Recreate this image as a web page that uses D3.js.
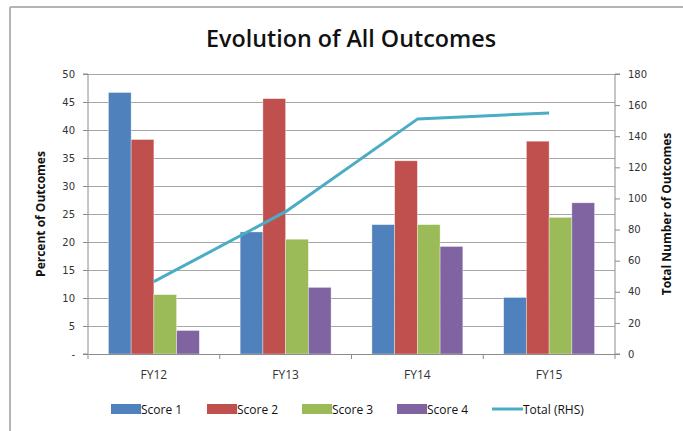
<!DOCTYPE html>
<html lang="en">
<head>
<meta charset="UTF-8">
<title>Evolution of All Outcomes</title>
<script src="https://d3js.org/d3.v7.min.js"></script>
<style>
  body { margin: 0; background: #fff; }
  svg { display: block; }
  .tick text { font-family: "DejaVu Sans", Verdana, sans-serif; font-size: 10px; fill: #333; }
  .axis-title { font-family: "Open Sans", Lato, sans-serif; font-size: 12px; font-weight: bold; fill: #111; }
  .legend text { font-family: "Open Sans", Lato, sans-serif; font-size: 12px; fill: #111; }
</style>
</head>
<body>
<div id="chart"></div>
<script>
// data
const years = ["FY12", "FY13", "FY14", "FY15"];
const seriesNames = ["Score 1", "Score 2", "Score 3", "Score 4"];
const score1 = [46.7, 21.8, 23.1, 10.1];
const score2 = [38.3, 45.6, 34.5, 38.0];
const score3 = [10.6, 20.5, 23.1, 24.4];
const score4 = [4.2, 11.9, 19.2, 27.0];
const totalRHS = [46.5, 91.5, 151, 155];
const leftTicks = [0, 5, 10, 15, 20, 25, 30, 35, 40, 45, 50];
const rightTicks = [0, 20, 40, 60, 80, 100, 120, 140, 160, 180];

const colors = ["#4F81BD", "#C0504D", "#9BBB59", "#8064A2"];
const lineColor = "#4BACC6";

const width = 683, height = 431;
const margin = { top: 74, right: 68, bottom: 77, left: 88 };
const innerW = width - margin.left - margin.right;
const innerH = height - margin.top - margin.bottom;

const svg = d3.select("#chart").append("svg")
    .attr("width", width)
    .attr("height", height);

// outer frame (only top and left visible)
svg.append("line").attr("x1", 10).attr("x2", width).attr("y1", 7).attr("y2", 7)
    .attr("stroke", "#b4b4b4").attr("stroke-width", 2);
svg.append("line").attr("x1", 10).attr("x2", 10).attr("y1", 7).attr("y2", height)
    .attr("stroke", "#b4b4b4").attr("stroke-width", 2);

svg.append("text")
    .attr("x", 351).attr("y", 47)
    .attr("text-anchor", "middle")
    .attr("textLength", 290)
    .attr("lengthAdjust", "spacingAndGlyphs")
    .style("font-family", "'Open Sans', Lato, sans-serif")
    .style("font-size", "23px")
    .style("font-weight", "600")
    .style("fill", "#111")
    .text("Evolution of All Outcomes");

const g = svg.append("g").attr("transform", `translate(${margin.left},${margin.top})`);

const x0 = d3.scaleBand().domain(years).range([0, innerW]).paddingInner(0).paddingOuter(0);
const x1 = d3.scaleBand().domain(seriesNames)
    .range([x0.bandwidth() * 0.155, x0.bandwidth() * 0.845]);
const yL = d3.scaleLinear().domain([0, 50]).range([innerH, 0]);
const yR = d3.scaleLinear().domain([0, 180]).range([innerH, 0]);

// gridlines
g.append("g")
    .selectAll("line")
    .data(leftTicks.slice(1))
    .join("line")
    .attr("x1", 0).attr("x2", innerW)
    .attr("y1", d => Math.round(yL(d)) + 0.5).attr("y2", d => Math.round(yL(d)) + 0.5)
    .attr("stroke", "#a6a6a6");

// bars
const allScores = [score1, score2, score3, score4];
const groups = g.append("g").selectAll("g")
    .data(years)
    .join("g")
    .attr("transform", d => `translate(${x0(d)},0)`);

groups.selectAll("rect")
    .data((d, i) => seriesNames.map((s, j) => ({ s, v: allScores[j][i], c: colors[j] })))
    .join("rect")
    .attr("x", d => x1(d.s))
    .attr("width", x1.bandwidth())
    .attr("y", d => yL(d.v))
    .attr("height", d => innerH - yL(d.v))
    .attr("fill", d => d.c)
    .attr("stroke", "rgba(255,255,255,0.5)")
    .attr("stroke-width", 0.7);

// line (RHS)
const line = d3.line()
    .x((d, i) => x0(years[i]) + x0.bandwidth() / 2)
    .y(d => yR(d));
g.append("path")
    .datum(totalRHS)
    .attr("d", line)
    .attr("fill", "none")
    .attr("stroke", lineColor)
    .attr("stroke-width", 3)
    .attr("stroke-linejoin", "round");

// axes
const leftAxis = d3.axisLeft(yL).tickValues(leftTicks)
    .tickFormat(d => d === 0 ? "-" : d).tickSize(5).tickPadding(8);
const la = g.append("g").call(leftAxis);
la.select(".domain").attr("stroke", "#8c8c8c").attr("d", `M-5,${innerH}H0V0H-5`);
la.selectAll(".tick line").attr("stroke", "#8c8c8c");

const rightAxis = d3.axisRight(yR).tickValues(rightTicks).tickSize(5).tickPadding(8);
const ra = g.append("g").attr("transform", `translate(${innerW},0)`).call(rightAxis);
ra.select(".domain").attr("stroke", "#8c8c8c").attr("d", `M5,${innerH}H0V0H5`);
ra.selectAll(".tick line").attr("stroke", "#8c8c8c");

const bottomAxis = d3.axisBottom(x0).tickSize(0).tickPadding(16);
const ba = g.append("g").attr("transform", `translate(0,${innerH})`).call(bottomAxis);
ba.select(".domain").attr("stroke", "#8c8c8c");
ba.selectAll(".tick text").style("font-family", "'Open Sans', Lato, sans-serif").style("font-size", "12px");
// category separators
ba.selectAll(".sep")
    .data(d3.range(years.length + 1))
    .join("line")
    .attr("class", "sep")
    .attr("x1", i => i * x0.bandwidth()).attr("x2", i => i * x0.bandwidth())
    .attr("y1", 0).attr("y2", 5)
    .attr("stroke", "#8c8c8c");

// axis titles
svg.append("text").attr("class", "axis-title")
    .attr("transform", `translate(45,${margin.top + innerH / 2}) rotate(-90)`)
    .attr("text-anchor", "middle")
    .text("Percent of Outcomes");
svg.append("text").attr("class", "axis-title")
    .attr("transform", `translate(671,${margin.top + innerH / 2}) rotate(-90)`)
    .attr("text-anchor", "middle")
    .text("Total Number of Outcomes");

// legend
const legend = svg.append("g").attr("class", "legend");
const legendX = [111, 207, 302, 397, 492];
seriesNames.forEach((s, i) => {
    legend.append("rect").attr("x", legendX[i]).attr("y", 404).attr("width", 30).attr("height", 10)
        .attr("fill", colors[i]);
    legend.append("text").attr("x", legendX[i] + 30).attr("y", 413.5).text(s);
});
legend.append("line").attr("x1", legendX[4]).attr("x2", legendX[4] + 31)
    .attr("y1", 409).attr("y2", 409).attr("stroke", lineColor).attr("stroke-width", 3);
legend.append("text").attr("x", legendX[4] + 31).attr("y", 413.5).text("Total (RHS)");
</script>
</body>
</html>
